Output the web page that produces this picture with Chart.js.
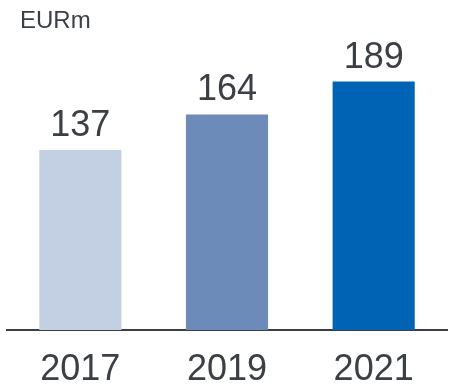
<!DOCTYPE html>
<html>
<head>
<meta charset="utf-8">
<script src="https://cdn.jsdelivr.net/npm/chart.js@4/dist/chart.umd.min.js"></script>
<style>
  html, body { margin: 0; padding: 0; background: #ffffff; }
  #wrap { width: 449px; height: 386px; position: relative; }
</style>
</head>
<body>
<div id="wrap"><canvas id="c" width="449" height="386"></canvas></div>
<script>
// Data
const years = ['2017', '2019', '2021'];
const values = [137, 164, 189];
const barColors = ['#c3cfe2', '#6d8bb8', '#0063b4'];
const unitLabel = 'EURm';

const textColor = '#3b4046';
const fontFamily = '"Liberation Sans", Arial, sans-serif';

// Value labels above each bar, plus the unit caption in the top-left corner
const valueLabels = {
  id: 'valueLabels',
  afterDatasetsDraw(chart) {
    const ctx = chart.ctx;
    const meta = chart.getDatasetMeta(0);
    ctx.save();
    ctx.fillStyle = textColor;
    ctx.font = '36px ' + fontFamily;
    ctx.textAlign = 'center';
    ctx.textBaseline = 'alphabetic';
    meta.data.forEach((bar, i) => {
      ctx.fillText(String(values[i]), bar.x, bar.y - 14);
    });
    ctx.font = '24px ' + fontFamily;
    ctx.textAlign = 'left';
    ctx.textBaseline = 'alphabetic';
    ctx.fillText(unitLabel, 20, 28);
    ctx.restore();
  }
};

new Chart(document.getElementById('c'), {
  type: 'bar',
  data: {
    labels: years,
    datasets: [{
      data: values,
      backgroundColor: barColors,
      borderWidth: 0,
      barPercentage: 0.56,
      categoryPercentage: 1.0
    }]
  },
  options: {
    responsive: false,
    animation: false,
    devicePixelRatio: 1,
    layout: { padding: { left: 7, right: 2, top: 0, bottom: 0 } },
    plugins: { legend: { display: false }, tooltip: { enabled: false } },
    scales: {
      x: {
        grid: { display: false, drawTicks: false },
        border: { display: true, color: '#3c4046', width: 2 },
        ticks: {
          color: textColor,
          font: { family: fontFamily, size: 36 },
          padding: 18
        },
        afterFit(scale) { scale.height = 56; }
      },
      y: {
        display: false,
        min: 0,
        max: 251
      }
    }
  },
  plugins: [valueLabels]
});
</script>
</body>
</html>
